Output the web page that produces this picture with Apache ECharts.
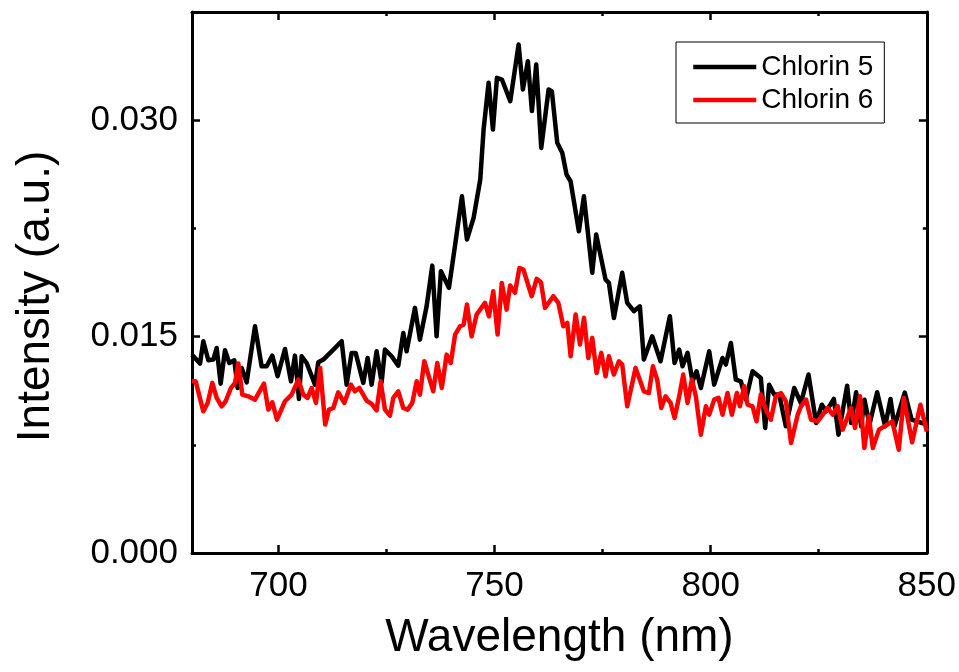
<!DOCTYPE html>
<html>
<head>
<meta charset="utf-8">
<script src="https://cdn.jsdelivr.net/npm/echarts@6/dist/echarts.min.js"></script>
<style>
html,body{margin:0;padding:0;background:#fff;}
#chart{width:959px;height:672px;}
</style>
</head>
<body>
<div id="chart"></div>
<script>
// ---- data ----
const seriesNames = ['Chlorin 5', 'Chlorin 6'];
const xTickLabels = [700, 750, 800, 850];
const yTickLabels = ['0.000', '0.015', '0.030'];

const c5Wavelength = [680.0,681.85,682.62,683.78,684.93,685.71,686.63,687.63,688.63,689.79,690.56,691.49,692.64,694.57,696.11,697.27,698.58,699.81,701.51,702.9,703.82,704.75,705.37,706.52,708.45,709.22,710.38,712.31,714.62,715.77,716.93,717.86,719.63,720.63,721.56,722.71,723.87,724.64,726.18,727.72,728.88,729.65,731.58,732.73,734.28,735.59,736.59,737.59,739.44,740.83,742.45,743.61,745.15,746.69,747.46,748.62,749.62,750.55,751.7,753.63,755.56,756.56,757.71,758.64,759.64,760.8,762.5,763.26,764.5,765.66,766.66,767.58,769.51,770.67,772.6,773.52,775.68,776.45,777.61,779.53,780.69,782.23,783.62,784.54,786.47,788.4,790.56,791.64,792.72,793.49,794.65,795.8,796.73,797.73,799.66,800.81,802.74,803.51,804.67,805.82,806.98,808.13,809.68,811.6,812.61,813.53,814.69,815.85,817.39,819.32,820.87,822.63,824.4,825.71,826.72,828.49,829.57,831.57,832.5,833.65,834.81,835.58,836.74,838.51,840.36,841.6,842.52,844.9,846.5,850.0];
const c5Intensity = [0.01375,0.01313,0.01468,0.01336,0.01341,0.01421,0.01174,0.01405,0.01317,0.01336,0.01144,0.01283,0.01183,0.01572,0.01294,0.01294,0.01368,0.01225,0.01414,0.01190,0.01368,0.01068,0.01364,0.01317,0.01167,0.01322,0.01341,0.01398,0.01468,0.01167,0.01387,0.01387,0.01179,0.01352,0.01167,0.01398,0.01183,0.01410,0.01364,0.01299,0.01525,0.01398,0.01699,0.01479,0.01710,0.01992,0.01502,0.01953,0.01838,0.02126,0.02473,0.02173,0.02323,0.02589,0.02935,0.03259,0.02935,0.03294,0.03282,0.03132,0.03525,0.03213,0.03409,0.03063,0.03386,0.02808,0.03213,0.03199,0.02843,0.02774,0.02623,0.02577,0.02230,0.02473,0.01942,0.02207,0.01895,0.01872,0.01629,0.01942,0.01734,0.01676,0.01710,0.01341,0.01502,0.01329,0.01641,0.01317,0.01410,0.01294,0.01387,0.01190,0.01260,0.01144,0.01398,0.01167,0.01352,0.01306,0.01456,0.01202,0.01190,0.01063,0.01260,0.01213,0.00867,0.01167,0.01098,0.01098,0.00878,0.01144,0.01040,0.01237,0.00901,0.01028,0.00982,0.01068,0.00820,0.01160,0.00901,0.01114,0.00878,0.01063,0.00890,0.01114,0.00878,0.01068,0.00878,0.01112,0.00924,0.00890];

const c6Wavelength = [680.0,680.85,682.62,683.62,684.7,685.71,686.86,687.79,689.02,689.95,690.72,691.64,693.03,694.57,696.65,697.66,698.58,699.66,701.51,703.05,704.59,705.75,706.75,707.68,708.68,709.65,710.81,711.69,712.69,713.84,715.23,716.77,717.7,718.7,720.4,721.56,722.71,723.64,724.64,725.8,726.57,727.72,728.88,729.88,730.96,731.97,732.73,733.74,735.82,736.74,737.79,738.91,739.87,740.87,742.03,742.84,743.61,744.69,745.85,747.78,748.7,749.7,750.7,751.67,752.78,753.6,754.72,755.75,756.66,758.59,759.74,760.74,761.67,763.59,764.75,765.9,766.83,767.6,768.76,769.76,770.69,771.69,772.6,773.6,774.68,775.68,776.45,777.61,778.77,779.53,780.69,782.62,784.54,785.7,786.63,787.63,788.56,789.56,790.72,791.64,792.72,793.65,794.65,795.65,796.57,797.73,798.89,799.66,800.81,801.82,802.74,803.9,804.9,806.06,806.75,807.75,808.52,809.68,810.6,811.6,812.76,813.92,815.07,816.23,817.39,818.59,820.13,820.9,822.06,823.22,824.76,827.08,828.23,829.39,830.54,832.47,833.39,834.55,835.55,836.58,837.51,838.94,840.86,842.02,843.52,844.68,846.61,848.53,850.0];
const c6Intensity = [0.01190,0.01190,0.00982,0.01040,0.01179,0.01075,0.01017,0.01052,0.01144,0.01179,0.01313,0.01098,0.01086,0.01063,0.01174,0.00994,0.01045,0.00924,0.01052,0.01098,0.01202,0.01098,0.01075,0.01144,0.01040,0.01283,0.00890,0.00994,0.01005,0.01114,0.01040,0.01167,0.01121,0.01144,0.01056,0.01033,0.00989,0.01190,0.00994,0.00952,0.01075,0.01121,0.01005,0.00994,0.01040,0.01190,0.01098,0.01329,0.01121,0.01317,0.01144,0.01375,0.01317,0.01514,0.01572,0.01583,0.01722,0.01502,0.01653,0.01734,0.01641,0.01814,0.01514,0.01872,0.01687,0.01854,0.01803,0.01976,0.01965,0.01780,0.01900,0.01877,0.01699,0.01780,0.01734,0.01572,0.01595,0.01364,0.01653,0.01445,0.01630,0.01352,0.01491,0.01248,0.01387,0.01225,0.01364,0.01237,0.01329,0.01306,0.01017,0.01283,0.01121,0.01109,0.01294,0.01202,0.01005,0.01086,0.01040,0.00936,0.01086,0.01237,0.01040,0.01202,0.01086,0.00820,0.01017,0.00959,0.01063,0.01075,0.00959,0.01109,0.00959,0.01109,0.01017,0.01156,0.01028,0.01017,0.00913,0.01098,0.00994,0.00924,0.01086,0.01109,0.01052,0.00763,0.00959,0.01017,0.01063,0.00924,0.00913,0.01005,0.00959,0.01017,0.00855,0.01005,0.00867,0.01086,0.00728,0.00948,0.00728,0.00855,0.00890,0.00913,0.00716,0.01075,0.00767,0.01028,0.00843];

// ---- chart ----
const FONT = 'Liberation Sans, Arial, sans-serif';
const X_MIN = 680, X_MAX = 850, Y_MIN = 0, Y_MAX = 0.0375;

function zip(xs, ys) { return xs.map((x, i) => [x, ys[i]]); }
function isMult(v, step) { return Math.abs(Math.round(v / step) * step - v) < 1e-9; }

function xAx(pos, step, major, withLabel) {
  return {
    type: 'value', position: pos, min: X_MIN, max: X_MAX,
    minInterval: step, maxInterval: step,
    axisLine: { show: major, onZero: false, lineStyle: { color: '#000', width: 3 } },
    axisTick: { show: true, inside: true, length: major ? 8 : 4, lineStyle: { color: '#000', width: 2.5 } },
    axisLabel: withLabel ? {
      show: true, fontFamily: FONT, fontSize: 35, color: '#000', margin: 16,
      formatter: v => (xTickLabels.indexOf(Math.round(v)) >= 0 && isMult(v, 50)) ? String(Math.round(v)) : ''
    } : { show: false },
    splitLine: { show: false },
    name: withLabel ? 'Wavelength (nm)' : '',
    nameLocation: 'middle', nameGap: 62,
    nameTextStyle: { fontFamily: FONT, fontSize: 46, color: '#000' }
  };
}
function yAx(pos, step, major, withLabel) {
  return {
    type: 'value', position: pos, min: Y_MIN, max: Y_MAX, interval: step,
    axisLine: { show: major, onZero: false, lineStyle: { color: '#000', width: 3 } },
    axisTick: { show: true, inside: true, length: major ? 8 : 4, lineStyle: { color: '#000', width: 2.5 } },
    axisLabel: withLabel ? {
      show: true, fontFamily: FONT, fontSize: 35, color: '#000', margin: 14,
      formatter: v => {
        if (!isMult(v, 0.015)) return '';
        const s = v.toFixed(3);
        return yTickLabels.indexOf(s) >= 0 ? s : '';
      }
    } : { show: false },
    splitLine: { show: false },
    name: withLabel ? 'Intensity (a.u.)' : '',
    nameLocation: 'middle', nameGap: 133, nameRotate: 90,
    nameTextStyle: { fontFamily: FONT, fontSize: 46, color: '#000', padding: [0, 28, 0, 0] }
  };
}

const chart = echarts.init(document.getElementById('chart'), null, { renderer: 'canvas' });
chart.setOption({
  animation: false,
  backgroundColor: '#fff',
  grid: { left: 192, right: 32, top: 12, bottom: 119, containLabel: false },
  legend: {
    data: seriesNames,
    orient: 'vertical',
    left: 676, top: 42,
    itemWidth: 63, itemHeight: 14, itemGap: 5,
    padding: [11, 11, 9, 15],
    borderColor: '#000', borderWidth: 1, borderRadius: 0,
    backgroundColor: '#fff',
    textStyle: { fontFamily: FONT, fontSize: 28, color: '#000' },
    itemStyle: { opacity: 0 },
    lineStyle: { width: 4.5 }
  },
  xAxis: [
    xAx('bottom', 50, true, true),
    xAx('bottom', 25, false, false),
    xAx('top', 50, true, false),
    xAx('top', 25, false, false)
  ],
  yAxis: [
    yAx('left', 0.015, true, true),
    yAx('left', 0.0075, false, false),
    yAx('right', 0.015, true, false),
    yAx('right', 0.0075, false, false)
  ],
  series: [
    {
      name: seriesNames[0], type: 'line', xAxisIndex: 0, yAxisIndex: 0,
      data: zip(c5Wavelength, c5Intensity),
      showSymbol: false, symbol: 'none',
      lineStyle: { color: '#000000', width: 4.5, join: 'round' },
      itemStyle: { color: '#000000' }, z: 2
    },
    {
      name: seriesNames[1], type: 'line', xAxisIndex: 0, yAxisIndex: 0,
      data: zip(c6Wavelength, c6Intensity),
      showSymbol: false, symbol: 'none',
      lineStyle: { color: '#ff0000', width: 4.5, join: 'round' },
      itemStyle: { color: '#ff0000' }, z: 3
    }
  ]
});
</script>
</body>
</html>
